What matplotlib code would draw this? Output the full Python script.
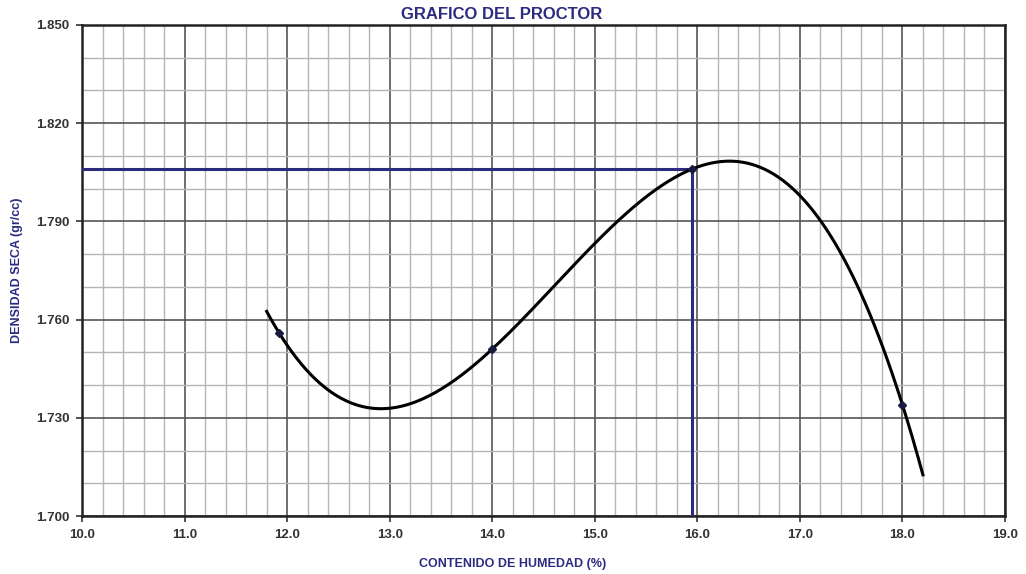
import matplotlib
matplotlib.use("Agg")
import matplotlib.pyplot as plt
import numpy as np
from matplotlib.ticker import FixedLocator, MultipleLocator, FormatStrFormatter

plt.rcParams['font.family'] = ['Liberation Sans', 'DejaVu Sans']

# ensayo proctor: humedad (%) y densidad seca (gr/cc)
humedad = [11.92, 14.0, 15.95, 18.0]
densidad = [1.756, 1.751, 1.806, 1.734]
curva_desde = 11.8
curva_hasta = 18.2
humedad_optima = 15.95
densidad_maxima = 1.806
y_ticks = [1.700, 1.730, 1.760, 1.790, 1.820, 1.850]
y_minor = [1.700 + 0.010 * i for i in range(16)]

navy = '#2b2b80'

fig = plt.figure(figsize=(10.26, 5.74), dpi=100)
ax = fig.add_axes([0.080, 0.101, 0.8995, 0.8555])

coef = np.polyfit(humedad, densidad, 3)
xs = np.linspace(curva_desde, curva_hasta, 300)
ax.plot(xs, np.polyval(coef, xs), color='black', lw=2.2, zorder=4)
ax.plot(humedad, densidad, ls='none', marker='D', ms=4, color='#1a1a40', zorder=5)

# lineas de optimo
ax.plot([10.0, humedad_optima], [densidad_maxima, densidad_maxima], color=navy, lw=2.2, zorder=3)
ax.plot([humedad_optima, humedad_optima], [1.700, densidad_maxima], color=navy, lw=2.2, zorder=3)

ax.set_xlim(10.0, 19.0)
ax.set_ylim(1.700, 1.850)
ax.xaxis.set_major_locator(MultipleLocator(1.0))
ax.xaxis.set_minor_locator(MultipleLocator(0.2))
ax.yaxis.set_major_locator(FixedLocator(y_ticks))
ax.yaxis.set_minor_locator(FixedLocator(y_minor))
ax.xaxis.set_major_formatter(FormatStrFormatter('%.1f'))
ax.yaxis.set_major_formatter(FormatStrFormatter('%.3f'))

ax.grid(which='major', color='#555555', lw=1.2, zorder=1)
ax.grid(which='minor', color='#b5b5b5', lw=1.0, zorder=0)
ax.set_axisbelow(True)
for s in ax.spines.values():
    s.set_linewidth(1.8)
    s.set_color('#222222')

ax.tick_params(which='major', length=4, width=1.2, labelsize=9.5, colors='#333333', pad=5)
ax.tick_params(which='minor', length=0)
for lbl in ax.get_xticklabels() + ax.get_yticklabels():
    lbl.set_fontweight('bold')

ax.set_title('GRAFICO DEL PROCTOR', fontsize=12, fontweight='bold', color=navy,
             x=0.455, y=1.0, pad=4)
ax.set_xlabel('CONTENIDO DE HUMEDAD (%)', fontsize=9, fontweight='bold', color=navy)
ax.xaxis.set_label_coords(0.466, -0.085)
ax.set_ylabel('DENSIDAD SECA (gr/cc)', fontsize=9, fontweight='bold', color=navy)
ax.yaxis.set_label_coords(-0.064, 0.5)

fig.savefig('out.png', dpi=100)
